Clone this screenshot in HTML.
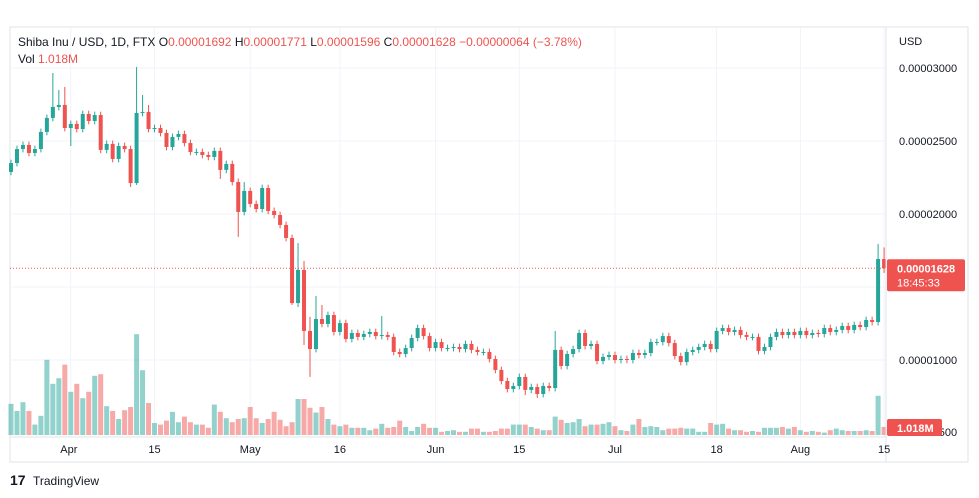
<!DOCTYPE html>
<html><head><meta charset="utf-8"><style>
html,body{margin:0;padding:0;background:#fff;}
svg{display:block;font-family:"Liberation Sans",sans-serif;}
</style></head><body>
<svg id="chart" width="979" height="498" viewBox="0 0 979 498">
<rect x="10" y="27" width="958" height="435" fill="#fff" stroke="#e0e3eb"/>
<g id="grid"></g>
<g id="vol"></g>
<g id="candles"></g>
<line x1="886" y1="27" x2="886" y2="462" stroke="#e0e3eb"/>
<line x1="10" y1="437" x2="886" y2="437" stroke="#e0e3eb"/>
<g id="yaxis"></g>
<g id="xaxis"></g>
<text x="899" y="45" font-size="11" fill="#131722">USD</text>
<text x="18" y="46" font-size="12" fill="#131722">Shiba Inu / USD, 1D, FTX <tspan fill="#131722">O</tspan><tspan fill="#ef5350">0.00001692</tspan>  <tspan fill="#131722">H</tspan><tspan fill="#ef5350">0.00001771</tspan>  <tspan fill="#131722">L</tspan><tspan fill="#ef5350">0.00001596</tspan>  <tspan fill="#131722">C</tspan><tspan fill="#ef5350">0.00001628</tspan>  <tspan fill="#ef5350">−0.00000064 (−3.78%)</tspan></text>
<text x="18" y="63" font-size="12" fill="#131722">Vol <tspan fill="#ef5350">1.018M</tspan></text>
<g id="lastlbl"></g>
<g>
<text x="10" y="485" font-size="14" font-weight="bold" fill="#131722">17</text>
<text x="33" y="485" font-size="12" fill="#131722">TradingView</text>
</g>
</svg>
<script>
// prices in units of 1e-8 USD
const firstOpen = 2288;
const closes = [2349,2445,2473,2418,2445,2562,2658,2733,2747,2589,2617,2582,2685,2637,2678,2439,2480,2377,2466,2445,2212,2692,2699,2582,2589,2555,2459,2528,2548,2486,2425,2425,2404,2391,2432,2302,2343,2219,2014,2158,2069,2034,2178,2021,1993,1925,1836,1390,1617,1199,1075,1281,1247,1308,1192,1253,1144,1185,1158,1178,1192,1164,1171,1158,1055,1041,1082,1151,1219,1164,1082,1123,1082,1082,1089,1075,1110,1069,1055,1055,1007,932,856,801,822,884,795,815,767,822,808,1069,959,1041,1075,1185,1096,1110,993,1021,1034,1000,1007,1000,1048,1034,1048,1123,1123,1164,1116,1027,986,1055,1069,1089,1110,1075,1199,1219,1192,1206,1171,1158,1158,1062,1089,1158,1192,1171,1192,1171,1199,1171,1185,1178,1219,1192,1206,1233,1206,1240,1226,1274,1260,1692,1628];
const highIdx = [7,8,9,21,22,23,39,48,49,50,51,52,62,91,145,146];
const highVal = [2966,2849,2870,3007,2815,2747,2219,1801,1678,1295,1438,1377,1301,1199,1795,1771];
const lowIdx = [10,20,21,35,38,47,48,49,50,86,88,146];
const lowVal = [2466,2185,2199,2240,1843,1377,1363,1103,884,760,740,1596];
const volumes = [3.9,3.0,4.1,3.0,1.3,2.4,9.4,6.4,7.1,8.8,5.4,6.4,4.6,5.4,7.4,7.6,3.6,3.0,2.0,3.1,3.5,12.6,8.1,4.0,1.5,1.3,1.8,2.9,1.6,2.3,1.6,1.3,1.3,0.9,3.8,2.9,2.1,1.6,2.0,2.1,3.5,2.1,1.5,2.0,2.9,1.9,1.1,1.6,4.5,4.5,3.4,2.8,3.5,2.0,1.3,1.1,1.3,0.9,0.9,0.9,0.6,0.8,1.4,0.9,1.0,1.8,1.0,0.5,1.0,1.4,0.9,0.9,0.4,0.5,
0.6,0.4,0.4,0.8,0.8,0.4,0.4,0.5,0.8,0.8,1.3,1.3,1.3,1.0,0.8,0.6,0.6,2.3,1.9,1.5,1.6,2.0,1.1,1.3,1.3,1.4,1.6,1.1,0.6,0.5,1.3,2.0,1.0,1.1,1.0,0.6,0.8,0.8,0.9,0.8,0.8,0.4,0.4,1.5,1.3,1.4,0.8,0.6,0.6,0.4,0.5,0.4,0.9,0.9,0.9,1.0,0.8,1.0,0.6,0.4,0.5,0.4,0.3,0.6,0.8,0.6,0.5,0.5,0.5,0.6,0.5,4.9,1.018];
const priceTicks = [3000,2500,2000,1500,1000];
const priceTickLabels = ["0.00003000","0.00002500","0.00002000","","0.00001000"];
const dateIdx = [10,24,40,55,71,85,101,118,132,146];
const dateLabels = ["Apr","15","May","16","Jun","15","Jul","18","Aug","15"];
const lastPrice = 1628;
const lastVolume = 1.018;

const NS="http://www.w3.org/2000/svg";
const X0=11, STEP=5.98;
const xs = i => X0 + i*STEP;
const ys = p => 360 - (p-1000)*73/500;
const vs = v => v*8;
const VBASE=435;
function mk(tag, attrs, parent){const e=document.createElementNS(NS,tag);for(const k in attrs)e.setAttribute(k,attrs[k]);parent.appendChild(e);return e;}
const grid=document.getElementById('grid'), cg=document.getElementById('candles'), vg=document.getElementById('vol'), ya=document.getElementById('yaxis'), xa=document.getElementById('xaxis');

priceTicks.forEach((p,k)=>{
  const l=mk('line',{x1:10,x2:886,y1:ys(p),y2:ys(p),stroke:'#f0f3fa'},grid);
  
  
  if(priceTickLabels[k]){
    const t=mk('text',{x:899,y:ys(p)+4,'font-size':11,fill:'#131722'},ya);
    t.textContent=priceTickLabels[k];
    
    
  }
});
dateIdx.forEach((d,k)=>{
  const x=xs(d);
  const l=mk('line',{x1:x,x2:x,y1:27,y2:437,stroke:'#f0f3fa'},grid);
  
  
  const t=mk('text',{x:x-(k===0?2:0),y:453,'font-size':11,fill:'#131722','text-anchor':'middle'},xa);
  t.textContent=dateLabels[k];
  
  
});
const vt=mk('text',{x:899,y:436,'font-size':11,fill:'#131722'},ya);
vt.textContent='0.00000500';



const W=4, DW=23;
closes.forEach((c,i)=>{
  const o = i===0?firstOpen:closes[i-1];
  const up = c>=o;
  const col = up?'#26a69a':'#ef5350';
  let h = Math.max(o,c)+DW, lo = Math.min(o,c)-DW;
  const hi=highIdx.indexOf(i); if(hi>=0) h=highVal[hi];
  const li=lowIdx.indexOf(i); if(li>=0) lo=lowVal[li];
  const x=xs(i);
  const vv=volumes[i]||0;
  const vb=mk('rect',{x:x-2.5,y:VBASE-vs(vv),width:5,height:vs(vv),fill:up?'rgba(38,166,154,0.5)':'rgba(239,83,80,0.5)'},vg);
  
  
  const g=mk('g',{},cg);
  
  
  mk('line',{x1:x,x2:x,y1:ys(h),y2:ys(lo),stroke:col,'stroke-width':1},g);
  const top=ys(Math.max(o,c)), bot=ys(Math.min(o,c));
  mk('rect',{x:x-W/2,y:top,width:W,height:Math.max(1,bot-top),fill:col},g);
});

const ll=document.getElementById('lastlbl');
const ly=ys(lastPrice);
const dl=mk('line',{x1:10,x2:886,y1:ly,y2:ly,stroke:'#ef5350','stroke-dasharray':'1,2'},ll);


const bx=mk('rect',{x:887,y:ly-9,width:78,height:32,rx:2,fill:'#ef5350'},ll);


const t1=mk('text',{x:897,y:ly+4,'font-size':11,fill:'#fff','font-weight':'bold'},ll);
t1.textContent=(lastPrice/1e8).toFixed(8);


const t2=mk('text',{x:897,y:ly+18,'font-size':11,fill:'#fff'},ll);
t2.textContent='18:45:33';


const vbx=mk('rect',{x:887,y:419,width:55,height:17,rx:2,fill:'#ef5350'},ll);


const t3=mk('text',{x:897,y:432,'font-size':11,fill:'#fff','font-weight':'bold'},ll);
t3.textContent=lastVolume.toFixed(3)+'M';


</script>
</body></html>
